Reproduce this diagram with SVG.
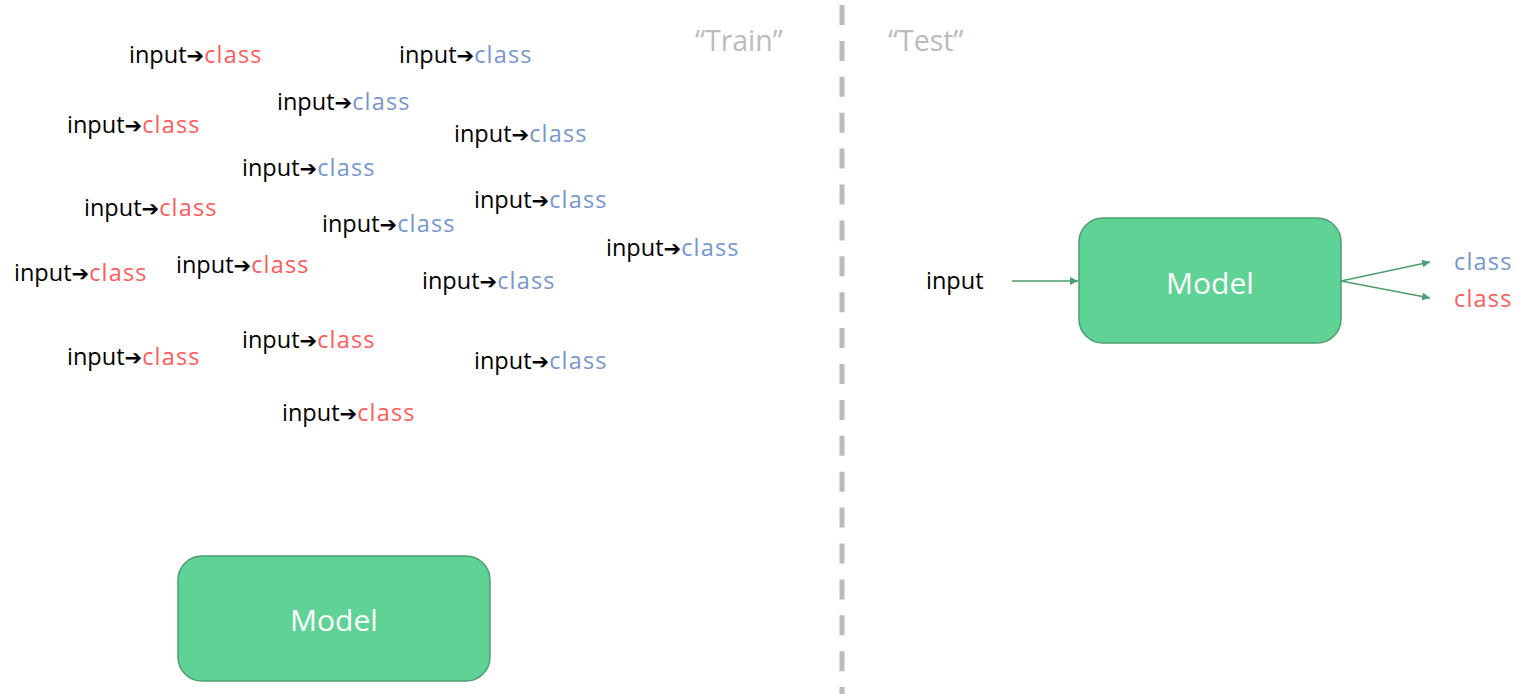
<svg xmlns="http://www.w3.org/2000/svg" width="1519" height="694" viewBox="0 0 1519 694">
<defs>
<style>
text{font-family:"Open Sans","Liberation Sans",sans-serif;font-size:23.5px;fill:#000}
.ar{font-family:"DejaVu Sans",sans-serif;font-size:21px;font-weight:bold}
.r{fill:#ff5b5b;letter-spacing:1.2px}
.b{fill:#7696cf;letter-spacing:1.2px}
.hdr{fill:#bbbbbb;font-size:28.5px}
.box{fill:#5fd395;stroke:#4e9e70;stroke-width:1.5}
.mt{fill:#fff;font-size:30px;text-anchor:middle}
.conn{stroke:#4e9e70;stroke-width:1.6;fill:none;marker-end:url(#ah)}
</style>
<marker id="ah" viewBox="0 0 10 10" refX="10" refY="5" markerWidth="8" markerHeight="8" markerUnits="userSpaceOnUse" orient="auto">
<path d="M0,0 L10,5 L0,10 z" fill="#4e9e70"/>
</marker>
</defs>
<rect width="1519" height="694" fill="#fff"/>
<line x1="842" y1="5" x2="842" y2="694" stroke="#bbbbbb" stroke-width="5" stroke-dasharray="20 15.9"/>
<g id="headers">
<text class="hdr" x="695" y="51">“Train”</text>
<text class="hdr" x="888" y="51">“Test”</text>
</g>
<g id="train-data">
<text x="129" y="63">input<tspan class="ar">➔</tspan><tspan class="r">class</tspan></text>
<text x="399" y="63">input<tspan class="ar">➔</tspan><tspan class="b">class</tspan></text>
<text x="277" y="110">input<tspan class="ar">➔</tspan><tspan class="b">class</tspan></text>
<text x="67" y="133">input<tspan class="ar">➔</tspan><tspan class="r">class</tspan></text>
<text x="454" y="142">input<tspan class="ar">➔</tspan><tspan class="b">class</tspan></text>
<text x="242" y="176">input<tspan class="ar">➔</tspan><tspan class="b">class</tspan></text>
<text x="84" y="216">input<tspan class="ar">➔</tspan><tspan class="r">class</tspan></text>
<text x="474" y="208">input<tspan class="ar">➔</tspan><tspan class="b">class</tspan></text>
<text x="322" y="232">input<tspan class="ar">➔</tspan><tspan class="b">class</tspan></text>
<text x="606" y="256">input<tspan class="ar">➔</tspan><tspan class="b">class</tspan></text>
<text x="14" y="281">input<tspan class="ar">➔</tspan><tspan class="r">class</tspan></text>
<text x="176" y="273">input<tspan class="ar">➔</tspan><tspan class="r">class</tspan></text>
<text x="422" y="289">input<tspan class="ar">➔</tspan><tspan class="b">class</tspan></text>
<text x="242" y="348">input<tspan class="ar">➔</tspan><tspan class="r">class</tspan></text>
<text x="67" y="365">input<tspan class="ar">➔</tspan><tspan class="r">class</tspan></text>
<text x="474" y="369">input<tspan class="ar">➔</tspan><tspan class="b">class</tspan></text>
<text x="282" y="421">input<tspan class="ar">➔</tspan><tspan class="r">class</tspan></text>
</g>
<g id="model-train">
<rect class="box" x="178" y="556" width="312" height="125" rx="24"/>
<text class="mt" x="334" y="631">Model</text>
</g>
<g id="test-input">
<text x="926" y="289">input</text>
</g>
<g id="model-test">
<rect class="box" x="1079" y="218" width="262" height="125" rx="24"/>
<text class="mt" x="1210" y="294">Model</text>
</g>
<g id="test-outputs">
<text class="b" x="1454" y="270">class</text>
<text class="r" x="1454" y="307">class</text>
</g>
<g id="connectors">
<line class="conn" x1="1012" y1="281" x2="1078" y2="281"/>
<line class="conn" x1="1341" y1="281" x2="1430" y2="262"/>
<line class="conn" x1="1341" y1="281" x2="1430" y2="298"/>
</g>
</svg>
